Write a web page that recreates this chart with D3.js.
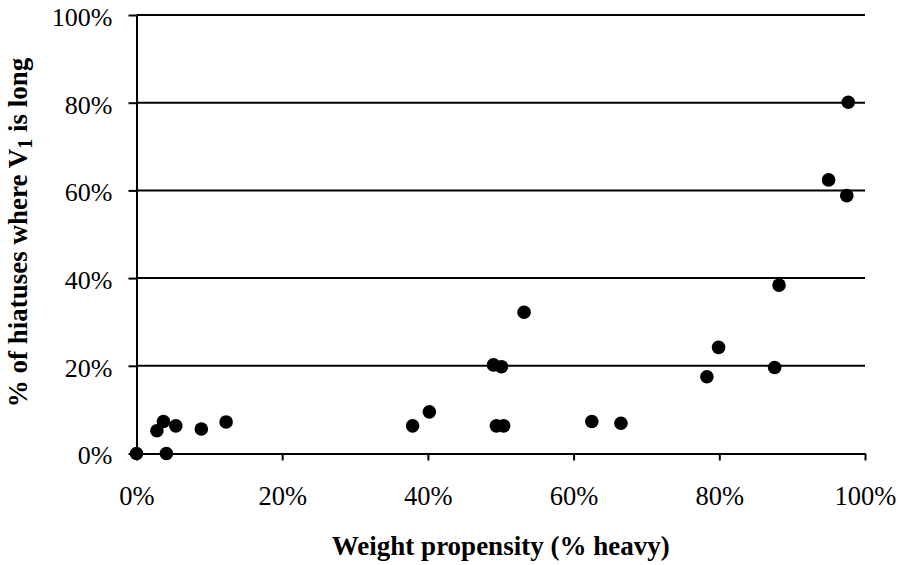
<!DOCTYPE html>
<html>
<head>
<meta charset="utf-8">
<script src="https://cdn.jsdelivr.net/npm/d3@7"></script>
<style>
  html, body { margin: 0; padding: 0; background: #fff; }
  svg { display: block; }
</style>
</head>
<body>
<div id="chart"></div>
<script>
// Data: weight propensity (% heavy) vs % of hiatuses where V1 is long
const xValues = [0, 4.1, 2.8, 3.7, 5.4, 8.9, 12.3, 37.9, 40.2, 53.2, 49.0, 50.1, 49.4, 50.4, 62.5, 66.5, 79.9, 78.3, 97.7, 95.0, 97.5, 88.2, 87.6];
const yValues = [0, 0, 5.2, 7.3, 6.3, 5.6, 7.2, 6.3, 9.5, 32.2, 20.2, 19.8, 6.3, 6.3, 7.3, 6.9, 24.2, 17.5, 80.1, 62.4, 58.8, 38.4, 19.6];
const xTicks = [0, 20, 40, 60, 80, 100];
const yTicks = [0, 20, 40, 60, 80, 100];
const xTitle = "Weight propensity (% heavy)";

const W = 905, H = 565;
const margin = { left: 136.5, right: 40, top: 15, bottom: 111.5 };

const svg = d3.select("#chart").append("svg").attr("width", W).attr("height", H);

const x = d3.scaleLinear().domain([0, 100]).range([margin.left, W - margin.right]);
const y = d3.scaleLinear().domain([0, 100]).range([H - margin.bottom, margin.top]);

const font = "'Liberation Serif', 'Times New Roman', serif";

// gridlines
svg.append("g")
  .selectAll("line")
  .data(yTicks.filter(d => d > 0))
  .join("line")
  .attr("x1", x(0)).attr("x2", x(100))
  .attr("y1", d => y(d)).attr("y2", d => y(d))
  .attr("stroke", "#000").attr("stroke-width", 2);

// x axis
const xAxis = d3.axisBottom(x).tickValues(xTicks).tickFormat(d => d + "%").tickSize(7).tickSizeOuter(0).tickPadding(26);
const gx = svg.append("g").attr("transform", `translate(0,${y(0)})`).call(xAxis);
gx.select(".domain").attr("stroke", "#000").attr("stroke-width", 2);
gx.selectAll(".tick line").attr("stroke", "#000").attr("stroke-width", 2);
gx.selectAll(".tick text").attr("font-family", font).attr("font-size", 26.5).attr("fill", "#000");

// y axis
const yAxis = d3.axisLeft(y).tickValues(yTicks).tickFormat(d => d + "%").tickSize(8).tickSizeOuter(0).tickPadding(16);
const gy = svg.append("g").attr("transform", `translate(${x(0)},0)`).call(yAxis);
gy.select(".domain").attr("stroke", "#000").attr("stroke-width", 2);
gy.selectAll(".tick line").attr("stroke", "#000").attr("stroke-width", 2);
gy.selectAll(".tick text").attr("font-family", font).attr("font-size", 26).attr("fill", "#000").attr("dy", "0.4em");

// points
svg.append("g")
  .selectAll("circle")
  .data(xValues.map((v, i) => [v, yValues[i]]))
  .join("circle")
  .attr("cx", d => x(d[0]))
  .attr("cy", d => y(d[1]))
  .attr("r", 6.8)
  .attr("fill", "#000");

// x title
svg.append("text")
  .attr("x", (x(0) + x(100)) / 2)
  .attr("y", 555)
  .attr("text-anchor", "middle")
  .attr("font-family", font)
  .attr("font-weight", "bold")
  .attr("font-size", 27)
  .text(xTitle);

// y title
const yt = svg.append("text")
  .attr("transform", `translate(27,${(52 + 413) / 2}) rotate(-90)`)
  .attr("text-anchor", "middle")
  .attr("font-family", font)
  .attr("font-weight", "bold")
  .attr("font-size", 27);
yt.append("tspan").text("% of hiatuses where V");
yt.append("tspan").attr("font-size", 20).attr("dy", 5).text("1");
yt.append("tspan").attr("dy", -5).text(" is long");
</script>
</body>
</html>
